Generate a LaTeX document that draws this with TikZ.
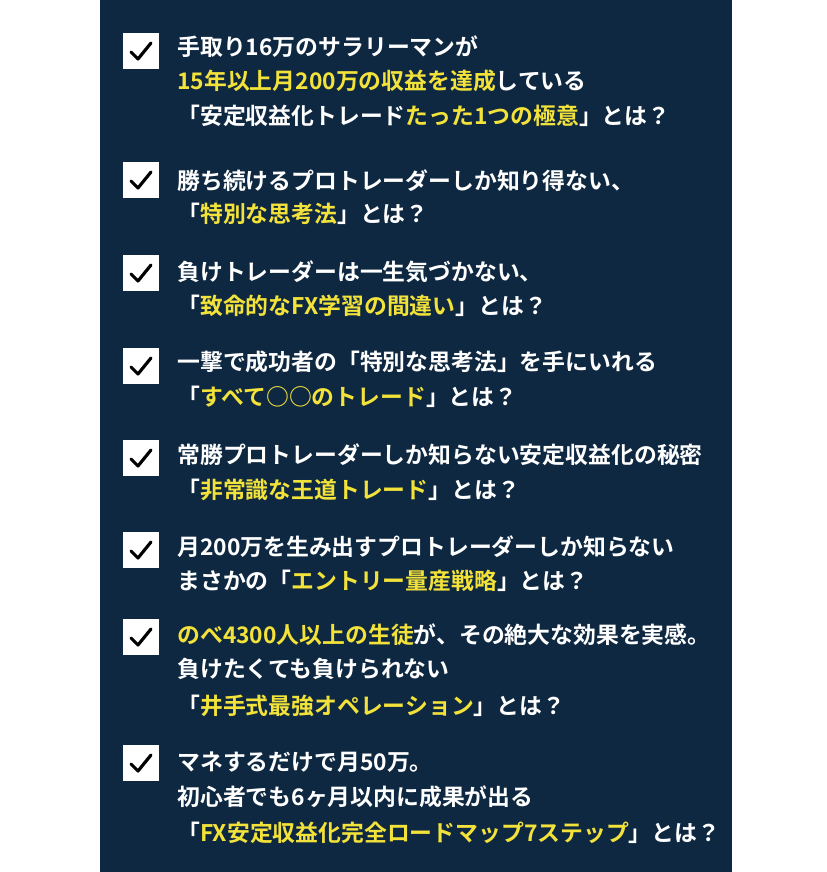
\documentclass[tikz,border=0pt]{standalone}
\usepackage{fontspec}
\newfontfamily\jp{Noto Sans CJK JP}[BoldFont={Noto Sans CJK JP Bold}]
\definecolor{panelnavy}{HTML}{0E2841}
\definecolor{hiyellow}{HTML}{F2E23A}
\newcommand{\hl}[1]{\textcolor{hiyellow}{#1}}
\tikzset{
  checkbox/.style={draw=none,fill=white,minimum size=20.4pt,inner sep=0},
  itemline/.style={anchor=west,text=white,inner sep=0,font=\jp\bfseries\fontsize{13}{14}\selectfont}
}
\begin{document}
\begin{tikzpicture}[x=0.02cm,y=-0.02cm]

\def\textX{177}

\useasboundingbox (0,0) rectangle (826,872);
\fill[panelnavy] (100,0) rectangle (732,872);

% check boxes
\foreach \cy [count=\i] in {51,180,273,366,458,550,637,763}{
  \node[checkbox] (box\i) at (141,\cy) {};
  \draw[black,line width=1.8pt,line cap=round,line join=round]
    ([shift={(-10,1)}]box\i.center) -- ([shift={(-3,8)}]box\i.center) -- ([shift={(10,-8)}]box\i.center);
}

% item 1
\node[itemline] (itemAa) at (\textX,47) {手取り16万のサラリーマンが};
\node[itemline] (itemAb) at (\textX,81) {\hl{15年以上月200万の収益を達成}している};
\node[itemline] (itemAc) at (\textX,116) {「安定収益化トレード\hl{たった1つの極意}」とは？};
% item 2
\node[itemline] (itemBa) at (\textX,181) {勝ち続けるプロトレーダーしか知り得ない、};
\node[itemline] (itemBb) at (\textX,214) {「\hl{特別な思考法}」とは？};
% item 3
\node[itemline] (itemCa) at (\textX,272) {負けトレーダーは一生気づかない、};
\node[itemline] (itemCb) at (\textX,306) {「\hl{致命的なFX学習の間違い}」とは？};
% item 4
\node[itemline] (itemDa) at (\textX,362) {一撃で成功者の「特別な思考法」を手にいれる};
\node[itemline] (itemDb) at (\textX,397) {「\hl{すべて○○のトレード}」とは？};
% item 5
\node[itemline] (itemEa) at (\textX,455) {常勝プロトレーダーしか知らない安定収益化の秘密};
\node[itemline] (itemEb) at (\textX,490) {「\hl{非常識な王道トレード}」とは？};
% item 6
\node[itemline] (itemFa) at (\textX,547) {月200万を生み出すプロトレーダーしか知らない};
\node[itemline] (itemFb) at (\textX,581) {まさかの「\hl{エントリー量産戦略}」とは？};
% item 7
\node[itemline] (itemGa) at (\textX,635) {\hl{のべ4300人以上の生徒}が、その絶大な効果を実感。};
\node[itemline] (itemGb) at (\textX,669) {負けたくても負けられない};
\node[itemline] (itemGc) at (\textX,706) {「\hl{井手式最強オペレーション}」とは？};
% item 8
\node[itemline] (itemHa) at (\textX,762) {マネするだけで月50万。};
\node[itemline] (itemHb) at (\textX,797) {初心者でも6ヶ月以内に成果が出る};
\node[itemline] (itemHc) at (\textX,833) {「\hl{FX安定収益化完全ロードマップ7ステップ}」とは？};

\end{tikzpicture}
\end{document}
